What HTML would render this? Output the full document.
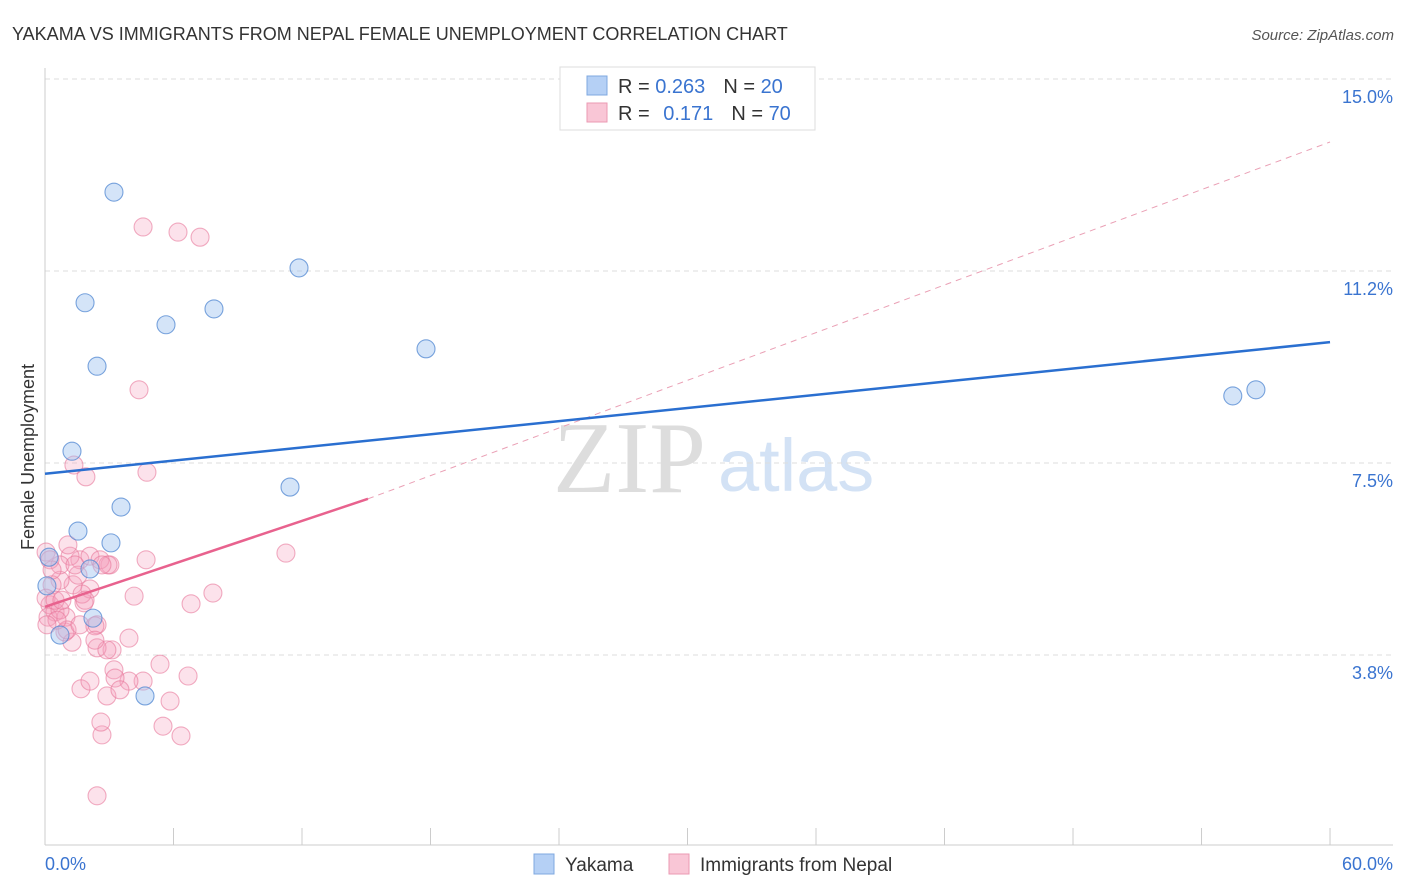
<!DOCTYPE html>
<html><head><meta charset="utf-8"><style>
body{margin:0;background:#fff;font-family:"Liberation Sans",sans-serif}
svg{display:block}
</style></head><body>
<svg width="1406" height="892" id="c">
<text x="12" y="40" font-size="18" fill="#333">YAKAMA VS IMMIGRANTS FROM NEPAL FEMALE UNEMPLOYMENT CORRELATION CHART</text>
<text x="1394" y="40" font-size="15" fill="#555" font-style="italic" text-anchor="end">Source: ZipAtlas.com</text>
<text x="553" y="492" font-size="102" fill="#ddd" font-family="Liberation Serif">ZIP</text>
<text x="718" y="491" font-size="74" fill="#d3e2f5">atlas</text>
<text transform="translate(34,457) rotate(-90)" font-size="18" fill="#333" text-anchor="middle">Female Unemployment</text>
<g id="grid"></g><g id="marks"></g>
<rect x="560" y="67" width="255" height="63" fill="#fff" stroke="#ddd"/>
<rect x="587" y="76" width="20" height="19" fill="#b5d0f5" stroke="#7fa8e0"/>
<rect x="587" y="103" width="20" height="19" fill="#f9c6d6" stroke="#eb9ab3"/>
<text x="618" y="93" font-size="20" fill="#333">R = <tspan fill="#3a74d0">0.263</tspan><tspan dx="18">N = </tspan><tspan fill="#3a74d0">20</tspan></text>
<text x="618" y="120" font-size="20" fill="#333">R = <tspan dx="8" fill="#3a74d0">0.171</tspan><tspan dx="18">N = </tspan><tspan fill="#3a74d0">70</tspan></text>
<rect x="534" y="854" width="20" height="20" fill="#b5d0f5" stroke="#7fa8e0"/>
<text x="565" y="871" font-size="19" fill="#333">Yakama</text>
<rect x="669" y="854" width="20" height="20" fill="#f9c6d6" stroke="#eb9ab3"/>
<text x="700" y="871" font-size="19" fill="#333">Immigrants from Nepal</text>
<text x="45" y="870" font-size="18" fill="#3a74d0">0.0%</text>
<text x="1393" y="870" font-size="18" fill="#3a74d0" text-anchor="end">60.0%</text>
</svg>
<script>
const yTicks=[15.0,11.25,7.5,3.75];
const yTickLabels=["15.0%","11.2%","7.5%","3.8%"];
const xTicks=[0,6,12,18,24,30,36,42,48,54,60];
const blueX=[3.22,1.87,5.65,7.89,11.86,2.43,17.79,1.26,3.55,1.54,3.08,2.10,0.19,11.44,55.46,56.54,4.67,0.09,0.70,2.24];
const blueY=[12.79,10.63,10.20,10.51,11.31,9.39,9.73,7.73,6.64,6.17,5.94,5.43,5.66,7.03,8.81,8.93,2.95,5.10,4.14,4.47];
const pinkX=[4.58,6.21,7.24,4.39,1.35,1.91,4.76,11.25,4.72,3.03,7.84,6.82,4.16,2.43,6.35,2.66,2.61,5.51,5.84,6.68,5.37,4.58,3.92,2.89,1.68,2.10,3.22,3.92,2.43,3.13,2.43,1.26,0.93,1.82,2.10,1.31,0.70,0.33,0.23,0.47,0.14,0.98,1.63,1.17,0.70,2.10,1.54,2.57,2.94,0.70,0.05,0.23,0.05,0.47,1.03,1.63,2.33,2.89,1.73,3.27,0.33,1.07,1.40,1.87,2.33,3.50,0.56,0.09,0.79,2.66];
const pinkY=[12.11,12.01,11.91,8.93,7.46,7.23,7.32,5.74,5.61,5.51,4.96,4.75,4.90,1.00,2.17,2.19,2.44,2.36,2.85,3.34,3.57,3.24,3.24,2.95,3.09,3.24,3.46,4.08,4.34,3.85,3.89,4.00,4.20,4.77,5.04,5.12,5.21,5.12,4.73,4.59,4.49,4.49,5.61,5.68,5.51,5.68,5.31,5.61,5.51,4.63,5.76,5.61,4.86,4.82,4.24,4.34,4.32,3.85,4.94,3.30,5.41,5.90,5.51,4.82,4.04,3.07,4.43,4.34,4.82,5.51];
const blueLine=[[0,7.29],[60,9.86]];
const pinkLine=[[0,4.69],[15.08,6.80]];
const pinkDash=[[15.08,6.80],[60,13.77]];
const X=v=>45+v*21.417, Y=v=>847-v*51.2;
const NS="http://www.w3.org/2000/svg";
function mk(t,a,p){const e=document.createElementNS(NS,t);for(const k in a)e.setAttribute(k,a[k]);p.appendChild(e);return e;}
const g=document.getElementById('grid'), m=document.getElementById('marks');
yTicks.forEach((t,i)=>{
 const l=mk('line',{x1:45,x2:1393,y1:Y(t),y2:Y(t),stroke:'#ddd','stroke-dasharray':'5,4'},g);
 
 
 const tx=mk('text',{x:1393,y:Y(t)+24,'font-size':18,fill:'#3a74d0','text-anchor':'end'},g);
 tx.textContent=yTickLabels[i];
 
 
});
const ax=mk('line',{x1:45,x2:1393,y1:845,y2:845,stroke:'#ccc'},g);


const ay=mk('line',{x1:45,x2:45,y1:68,y2:845,stroke:'#ccc'},g);


xTicks.forEach(t=>{
 const l=mk('line',{x1:X(t),x2:X(t),y1:828,y2:845,stroke:'#ccc'},g);
 
 
});
pinkX.forEach((v,i)=>{
 const c=mk('circle',{cx:X(v),cy:Y(pinkY[i]),r:9,fill:'rgba(244,160,190,0.3)',stroke:'rgba(232,120,155,0.6)','stroke-width':1.1},m);
 
 
});
blueX.forEach((v,i)=>{
 const c=mk('circle',{cx:X(v),cy:Y(blueY[i]),r:9,fill:'rgba(160,196,240,0.45)',stroke:'rgba(80,135,210,0.75)','stroke-width':1.1},m);
 
 
});
const d=mk('line',{x1:X(pinkDash[0][0]),y1:Y(pinkDash[0][1]),x2:X(pinkDash[1][0]),y2:Y(pinkDash[1][1]),stroke:'#eaa0b5','stroke-dasharray':'6,5','stroke-width':1},m);


const pl=mk('line',{x1:X(pinkLine[0][0]),y1:Y(pinkLine[0][1]),x2:X(pinkLine[1][0]),y2:Y(pinkLine[1][1]),stroke:'#e8628e','stroke-width':2.5},m);


const bl=mk('line',{x1:X(blueLine[0][0]),y1:Y(blueLine[0][1]),x2:X(blueLine[1][0]),y2:Y(blueLine[1][1]),stroke:'#2a6fd0','stroke-width':2.5},m);


</script>
</body></html>
